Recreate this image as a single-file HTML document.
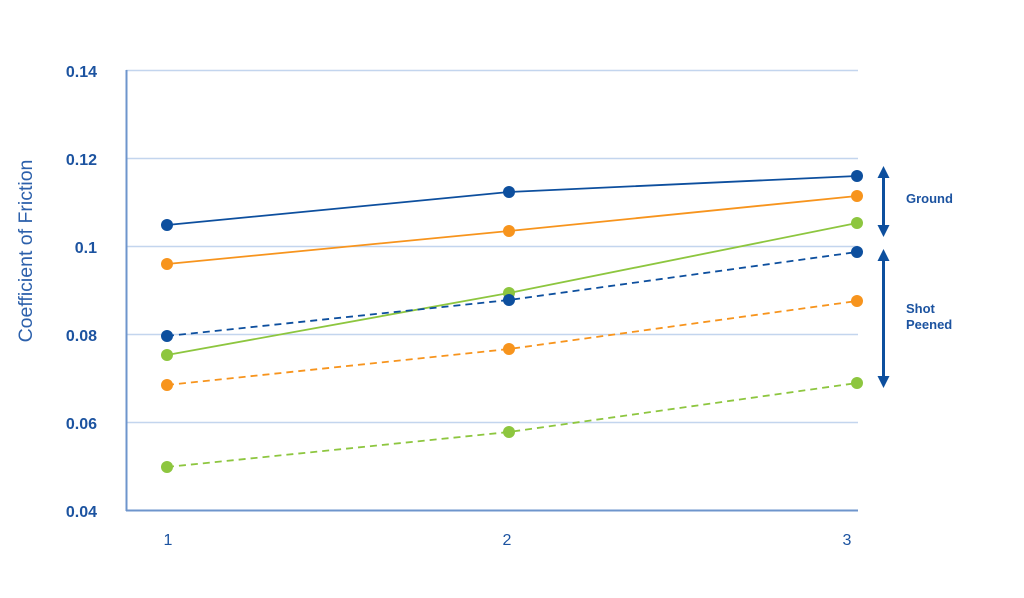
<!DOCTYPE html>
<html>
<head>
<meta charset="utf-8">
<style>
  html,body{margin:0;padding:0;background:#fff;}
  svg{display:block;}
</style>
</head>
<body>
<svg width="1024" height="598" viewBox="0 0 1024 598" xmlns="http://www.w3.org/2000/svg">
  <rect width="1024" height="598" fill="#ffffff"/>
  <!-- gridlines -->
  <g stroke="#c3d5ee" stroke-width="1.5">
    <line x1="126" y1="70.5" x2="858" y2="70.5"/>
    <line x1="126" y1="158.5" x2="858" y2="158.5"/>
    <line x1="126" y1="246.5" x2="858" y2="246.5"/>
    <line x1="126" y1="334.5" x2="858" y2="334.5"/>
    <line x1="126" y1="422.5" x2="858" y2="422.5"/>
  </g>
  <!-- axes -->
  <line x1="126.5" y1="70" x2="126.5" y2="511" stroke="#6e95cc" stroke-width="2"/>
  <line x1="126" y1="510.5" x2="858" y2="510.5" stroke="#6e95cc" stroke-width="2"/>

  <!-- y tick labels -->
  <g font-family="Liberation Sans, sans-serif" font-size="16" font-weight="bold" fill="#1c53a0" text-anchor="end">
    <text x="97" y="77">0.14</text>
    <text x="97" y="165">0.12</text>
    <text x="97" y="253">0.1</text>
    <text x="97" y="341">0.08</text>
    <text x="97" y="429">0.06</text>
    <text x="97" y="517">0.04</text>
  </g>
  <!-- x tick labels -->
  <g font-family="Liberation Sans, sans-serif" font-size="16" fill="#1c53a0" text-anchor="middle">
    <text x="168" y="545">1</text>
    <text x="507" y="545">2</text>
    <text x="847" y="545">3</text>
  </g>
  <!-- y axis title -->
  <text transform="translate(32,251) rotate(-90)" font-family="Liberation Sans, sans-serif" font-size="19.5" fill="#2c60ab" text-anchor="middle">Coefficient of Friction</text>

  <!-- series lines -->
  <g fill="none" stroke-width="1.8">
    <polyline points="167,225 509,192 857,176" stroke="#0d4f9e"/>
    <polyline points="167,264 509,231 857,196" stroke="#f7941d"/>
    <polyline points="167,355 509,293 857,223" stroke="#8dc63f"/>
    <polyline points="167,336 509,300 857,252" stroke="#0d4f9e" stroke-dasharray="7,5"/>
    <polyline points="167,385 509,349 857,301" stroke="#f7941d" stroke-dasharray="7,5"/>
    <polyline points="167,467 509,432 857,383" stroke="#8dc63f" stroke-dasharray="7,5"/>
  </g>
  <!-- markers -->
  <g>
    <circle cx="167" cy="225" r="6" fill="#0d4f9e"/>
    <circle cx="509" cy="192" r="6" fill="#0d4f9e"/>
    <circle cx="857" cy="176" r="6" fill="#0d4f9e"/>
    <circle cx="167" cy="264" r="6" fill="#f7941d"/>
    <circle cx="509" cy="231" r="6" fill="#f7941d"/>
    <circle cx="857" cy="196" r="6" fill="#f7941d"/>
    <circle cx="167" cy="355" r="6" fill="#8dc63f"/>
    <circle cx="509" cy="293" r="6" fill="#8dc63f"/>
    <circle cx="857" cy="223" r="6" fill="#8dc63f"/>
    <circle cx="167" cy="336" r="6" fill="#0d4f9e"/>
    <circle cx="509" cy="300" r="6" fill="#0d4f9e"/>
    <circle cx="857" cy="252" r="6" fill="#0d4f9e"/>
    <circle cx="167" cy="385" r="6" fill="#f7941d"/>
    <circle cx="509" cy="349" r="6" fill="#f7941d"/>
    <circle cx="857" cy="301" r="6" fill="#f7941d"/>
    <circle cx="167" cy="467" r="6" fill="#8dc63f"/>
    <circle cx="509" cy="432" r="6" fill="#8dc63f"/>
    <circle cx="857" cy="383" r="6" fill="#8dc63f"/>
  </g>

  <!-- arrows -->
  <g fill="#0d4f9e" stroke="none">
    <rect x="882" y="175" width="3" height="54"/>
    <polygon points="883.5,166 877.5,178 889.5,178"/>
    <polygon points="883.5,237 877.5,225 889.5,225"/>
    <rect x="882" y="258" width="3" height="122"/>
    <polygon points="883.5,249 877.5,261 889.5,261"/>
    <polygon points="883.5,388 877.5,376 889.5,376"/>
  </g>
  <g font-family="Liberation Sans, sans-serif" font-size="13" font-weight="bold" fill="#1c53a0">
    <text x="906" y="203">Ground</text>
    <text x="906" y="313">Shot</text>
    <text x="906" y="329">Peened</text>
  </g>
</svg>
</body>
</html>
